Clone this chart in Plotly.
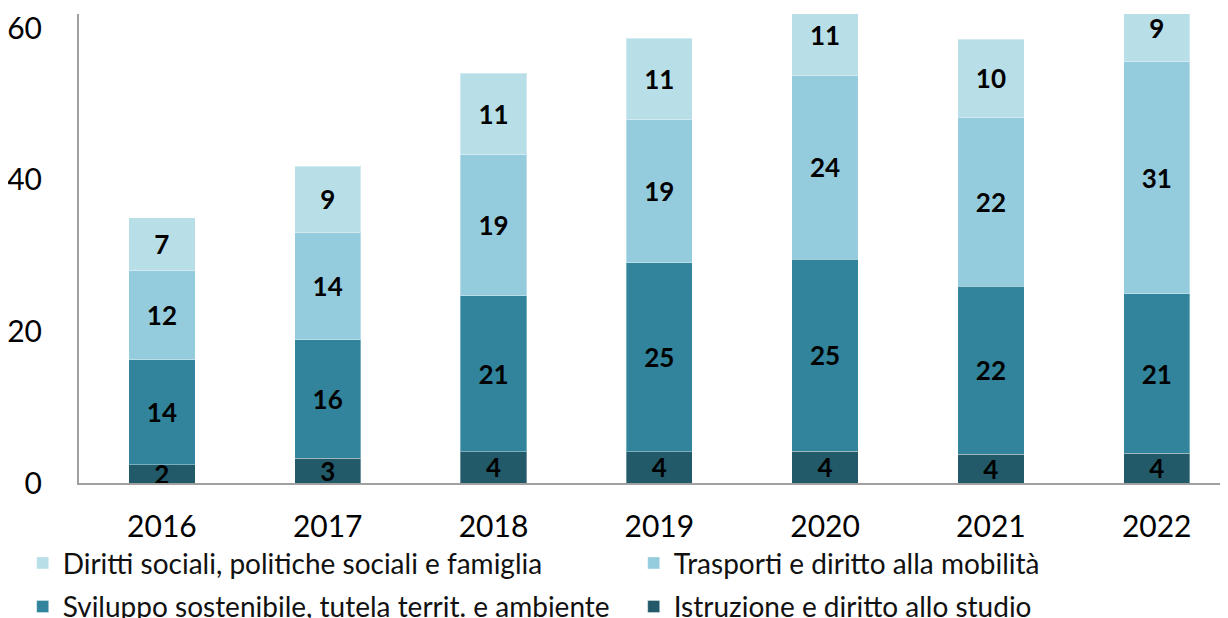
import plotly.graph_objects as go

years = ["2016", "2017", "2018", "2019", "2020", "2021", "2022"]
istruzione = [2.4, 3.3, 4.1, 4.1, 4.2, 3.8, 3.9]
sviluppo = [13.9, 15.6, 20.6, 25.0, 25.3, 22.2, 21.1]
trasporti = [11.7, 14.2, 18.6, 18.9, 24.3, 22.2, 30.6]
diritti = [7.0, 8.7, 10.8, 10.7, 10.6, 10.4, 9.0]

names = {
    "istr": "Istruzione e diritto allo studio",
    "svil": "Sviluppo sostenibile, tutela territ. e ambiente",
    "tras": "Trasporti e diritto alla mobilità",
    "dir": "Diritti sociali, politiche sociali e famiglia",
}
colors = {"istr": "#225A69", "svil": "#31849B", "tras": "#95CCDD", "dir": "#B8DEE8"}

FONT = "Lato"
fig = go.Figure()
series = [("istr", istruzione, "legend2"), ("svil", sviluppo, "legend2"),
          ("tras", trasporti, "legend"), ("dir", diritti, "legend")]
for key, vals, leg in series:
    fig.add_trace(go.Bar(
        x=years, y=vals, name=names[key],
        marker=dict(color=colors[key], line=dict(width=1, color="rgba(255,255,255,0.35)")),
        text=[f"{v:.0f}" for v in vals],
        textposition="inside", insidetextanchor="middle", constraintext="none",
        textfont=dict(family=FONT, size=26, color="black", weight="bold"),
        textangle=0,
        legend=leg,
        cliponaxis=True,
    ))

leg_common = dict(
    orientation="h", traceorder="reversed",
    font=dict(family=FONT, size=28, color="#111111"),
    entrywidth=566, entrywidthmode="pixels",
    xanchor="left", yanchor="middle", bgcolor="rgba(0,0,0,0)",
)
fig.update_layout(
    barmode="stack", bargap=0.6,
    width=1228, height=618,
    margin=dict(l=71, r=8, t=6, b=143, autoexpand=False),
    plot_bgcolor="white", paper_bgcolor="white",
    font=dict(family=FONT, color="black"),
    showlegend=True,
    legend=dict(x=-0.049, y=-0.171, **leg_common),
    legend2=dict(x=-0.049, y=-0.264, **leg_common),
    xaxis=dict(range=[-0.5, 6.43], showline=True, linecolor="#A0A0A0", linewidth=2,
               ticks="", showgrid=False, tickfont=dict(family=FONT, size=30, color="black"),
               ticklabelstandoff=16),
    yaxis=dict(range=[0, 61.9], tickvals=[0, 20, 40, 60], showline=True, linecolor="#A0A0A0",
               linewidth=2, ticks="", showgrid=False, zeroline=False,
               tickfont=dict(family=FONT, size=30, color="black"), ticklabelstandoff=29),
)
fig.write_html("out.html")
